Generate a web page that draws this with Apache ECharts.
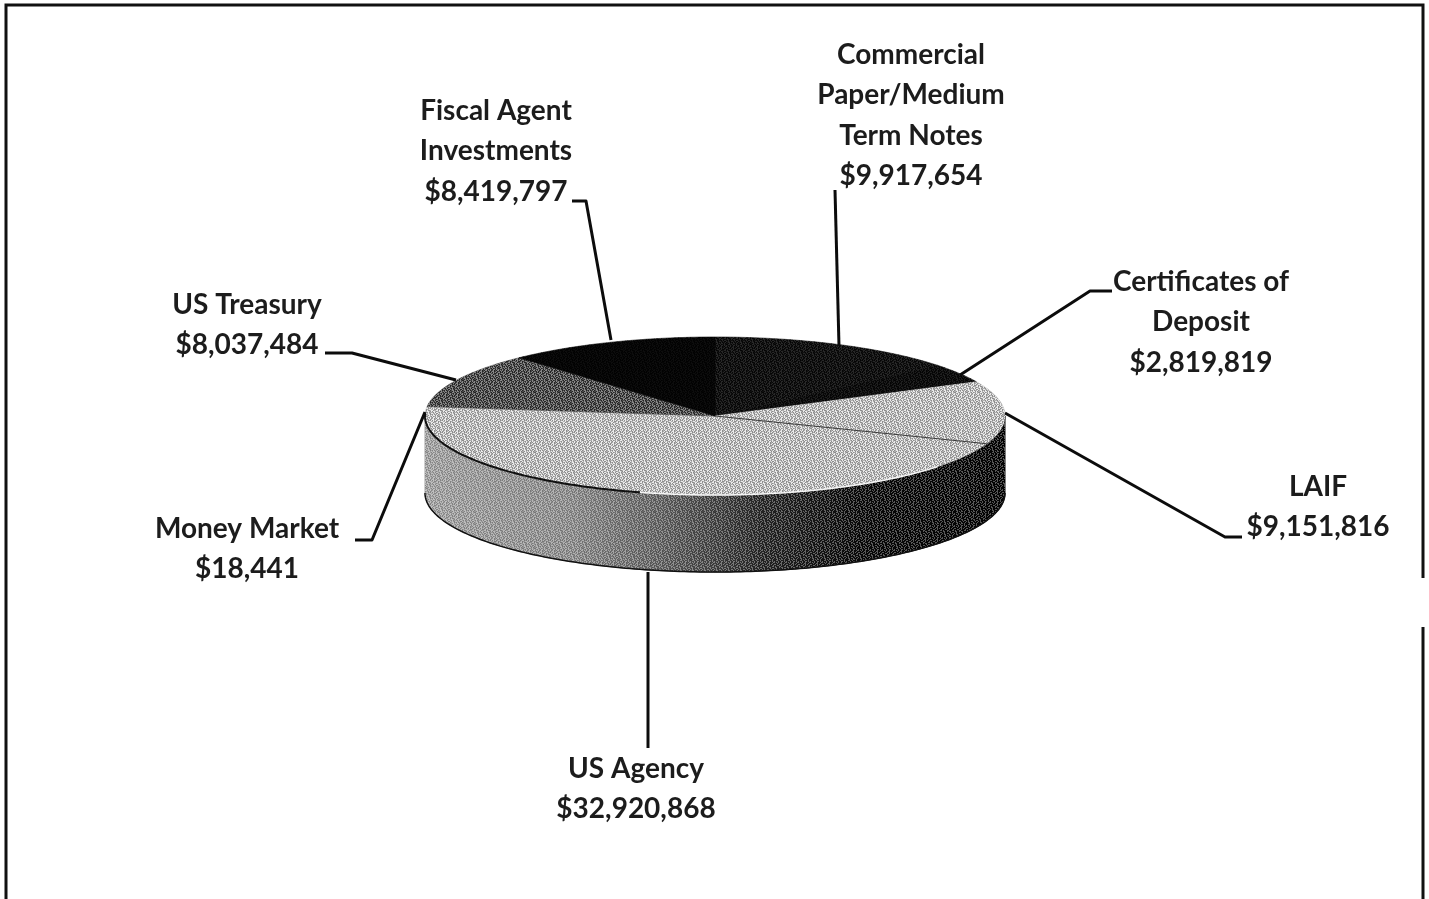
<!DOCTYPE html>
<html>
<head>
<meta charset="utf-8">
<style>html,body{margin:0;padding:0;background:#fff}#c{width:1429px;height:899px}</style>
<script src="https://cdn.jsdelivr.net/npm/echarts@6/dist/echarts.min.js"></script>
</head>
<body>
<div id="c"></div>
<script>
// Data, clockwise from 12 o'clock
const categories = ['Commercial\nPaper/Medium\nTerm Notes', 'Certificates of\nDeposit', 'LAIF', 'US Agency', 'Money Market', 'US Treasury', 'Fiscal Agent\nInvestments'];
const values = [9917654, 2819819, 9151816, 32920868, 18441, 8037484, 8419797];

// Styling and layout, kept apart from the data
const topColors = ['#101010', '#0c0c0c', '#b0b0b0', '#b0b0b0', '#b0b0b0', '#484848', '#050505'];
const speckle = [0.1, 0.08, 0.75, 0.75, 0.75, 0.35, 0.03];
const labelCenters = [[911, 55], [1201, 282], [1318, 487], [636, 769], [247, 529], [247, 305], [496, 111]];
const leaders = [
  [[835, 190], [839, 346]],
  [[1112, 291], [1090, 291], [960, 375]],
  [[1005, 413], [1225, 537], [1242, 537]],
  [[648, 572], [648, 748]],
  [[425, 412], [372, 540], [355, 540]],
  [[325, 353], [352, 353], [456, 380]],
  [[572, 201], [586, 201], [611, 340]]
];
const pie = { cx: 715, cy: 416, rx: 290, ry: 79, depth: 77 };
const lineHeight = 40.4;

const total = values.reduce((a, b) => a + b, 0);
const starts = [];
values.reduce((acc, v, i) => { starts[i] = acc; return acc + v; }, 0);
const toAngle = v => v / total * 360;
const rim = (deg, dy) => {
  const t = deg * Math.PI / 180;
  return [pie.cx + pie.rx * Math.sin(t), pie.cy - pie.ry * Math.cos(t) + (dy || 0)];
};
const arc = (a, b, dy) => {
  const n = Math.max(2, Math.ceil(Math.abs(b - a)));
  const pts = [];
  for (let i = 0; i <= n; i++) pts.push(rim(a + (b - a) * i / n, dy));
  return pts;
};

// Fixed 12x12 scan-grain tile ('#' dark grain, '.' light grain, ' ' none)
const grain = [
  '#. .# ..# #.',
  ' .## .#  .. ',
  '.#  ..#.## .',
  '#.. #  .. #.',
  ' #.#.. #.#  ',
  '.  .##. . #.',
  '#.#  .# ..# ',
  ' ..#.#  #. .',
  '.#  . ##.. #',
  '#..#. .  #. ',
  ' .# #..#. .#',
  '..# .#  #.# '
];
function grainTile(light) {
  const c = document.createElement('canvas');
  c.width = c.height = 12;
  const g = c.getContext('2d');
  grain.forEach((row, y) => [...row].forEach((ch, x) => {
    if (ch === ' ') return;
    const on = ch === '.' ? light : (1 - light);
    g.fillStyle = ch === '.' ? 'rgba(255,255,255,' + on + ')' : 'rgba(0,0,0,' + on * 0.8 + ')';
    g.fillRect(x, y, 1, 1);
  }));
  return { image: c, repeat: 'repeat' };
}
const sideGradient = new echarts.graphic.LinearGradient(425, 0, 1006, 0, [
  { offset: 0, color: '#a2a2a2' },
  { offset: 0.25, color: '#8c8c8c' },
  { offset: 0.42, color: '#5c5c5c' },
  { offset: 0.58, color: '#262626' },
  { offset: 0.75, color: '#080808' },
  { offset: 1, color: '#030303' }
], true);

const seriesData = values.map((v, i) => [i, v]);
const noSilent = { silent: true, animation: false, coordinateSystem: 'none', data: seriesData };

const chart = echarts.init(document.getElementById('c'), null, { renderer: 'canvas' });
chart.setOption({
  animation: false,
  backgroundColor: '#ffffff',
  graphic: [
    { type: 'polyline', silent: true, shape: { points: [[6, 899], [6, 5], [1423, 5], [1423, 578]] }, style: { stroke: '#111', lineWidth: 3, fill: null } },
    { type: 'line', silent: true, shape: { x1: 1423, y1: 627, x2: 1423, y2: 899 }, style: { stroke: '#111', lineWidth: 3 } }
  ],
  series: [
    { // outer wall
      type: 'custom', z: 1, ...noSilent,
      renderItem(params, api) {
        const i = params.dataIndex;
        const a = Math.max(toAngle(starts[i]), 90);
        const b = Math.min(toAngle(starts[i] + api.value(1)), 270);
        if (b <= a) return null;
        const points = arc(a, b, 0).concat(arc(b, a, pie.depth));
        return { type: 'group', children: [
          { type: 'polygon', shape: { points }, style: { fill: sideGradient, stroke: sideGradient, lineWidth: 1 } },
          { type: 'polygon', shape: { points }, style: { fill: grainTile(0.6), opacity: 0.55 } }
        ] };
      }
    },
    { // top face
      type: 'custom', z: 2, ...noSilent,
      renderItem(params, api) {
        const i = params.dataIndex;
        const a = toAngle(starts[i]);
        const b = toAngle(starts[i] + api.value(1));
        const points = [[pie.cx, pie.cy]].concat(arc(a, b, 0));
        return { type: 'group', children: [
          { type: 'polygon', shape: { points }, style: { fill: topColors[i], stroke: topColors[i], lineWidth: 0.6 } },
          { type: 'polygon', shape: { points }, style: { fill: grainTile(speckle[i]) } }
        ] };
      }
    },
    { // rim and slice edge inside the light area
      type: 'custom', z: 3, ...noSilent,
      renderItem(params, api) {
        const i = params.dataIndex;
        const a = toAngle(starts[i]);
        const b = toAngle(starts[i] + api.value(1));
        const kids = [];
        if (categories[i] === 'LAIF') {
          kids.push({ type: 'line', shape: { x1: pie.cx, y1: pie.cy, x2: rim(b)[0], y2: rim(b)[1] }, style: { stroke: 'rgba(20,20,20,0.75)', lineWidth: 1 } });
        }
        if (categories[i] === 'US Agency') {
          kids.push({ type: 'polyline', shape: { points: arc(Math.max(a, 195), Math.min(b, 272), 0) }, style: { stroke: '#111', lineWidth: 2, fill: null } });
          kids.push({ type: 'polyline', shape: { points: arc(130, 195, 0) }, style: { stroke: '#f4f4f4', lineWidth: 1.5, fill: null } });
          kids.push({ type: 'polyline', shape: { points: arc(90, 270, pie.depth) }, style: { stroke: '#111', lineWidth: 1.5, fill: null } });
        }
        return { type: 'group', children: kids };
      }
    },
    { // leader lines and labels
      type: 'custom', z: 4, ...noSilent,
      renderItem(params, api) {
        const i = params.dataIndex;
        const name = categories[i];
        const lines = name.split('\n').length + 1;
        const [x, y] = labelCenters[i];
        return { type: 'group', children: [
          { type: 'polyline', shape: { points: leaders[i] }, style: { stroke: '#0c0c0c', lineWidth: 3, fill: null, lineJoin: 'round' } },
          { type: 'text', x: x, y: y + (lines - 1) * lineHeight / 2,
            style: {
              text: name + '\n$' + api.value(1).toLocaleString('en-US'),
              fill: '#1c1c1c', font: 'bold 28px Lato, "Open Sans", sans-serif',
              lineHeight: lineHeight, align: 'center', verticalAlign: 'middle'
            } }
        ] };
      }
    }
  ]
});
</script>
</body>
</html>
